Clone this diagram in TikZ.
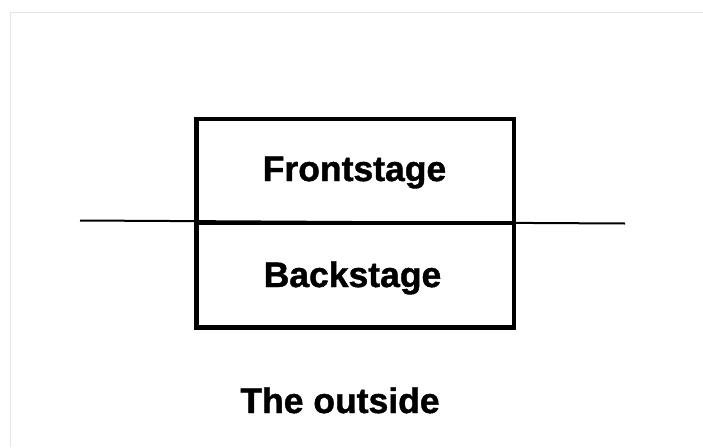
\documentclass[tikz,border=0pt]{standalone}
\usepackage{fontspec}
\setmainfont{Liberation Sans}[BoldFeatures={FakeBold=1.2}]
\begin{document}
\begin{tikzpicture}[x=1pt,y=-1pt,
  stagebox/.style={draw=black,line width=4.5pt,minimum width=317.5pt,minimum height=104pt,inner sep=0pt,anchor=north west},
  stagelabel/.style={font=\fontsize{35.5}{40}\selectfont\bfseries,inner sep=0pt,anchor=base}]
\useasboundingbox (0,0) rectangle (703,447);
\fill[white] (0,0) rectangle (703,447);
\draw[black!10,line width=1pt] (10.5,447) -- (10.5,12.5) -- (703,12.5);
\coordinate (lineL) at (80,220.5);
\coordinate (lineR) at (625,223.5);
\draw[line width=2pt] (lineL) -- (lineR);
\node[stagebox] (front) at (194,116.5) {};
\node[stagebox,minimum height=104.5pt] (back) at (194,220.5) {};
\node[stagelabel] (ftext) at (354.5,181) {Frontstage};
\node[stagelabel] (btext) at (352.5,287) {Backstage};
\node[stagelabel] (otext) at (340,413) {The outside};
\end{tikzpicture}
\end{document}
